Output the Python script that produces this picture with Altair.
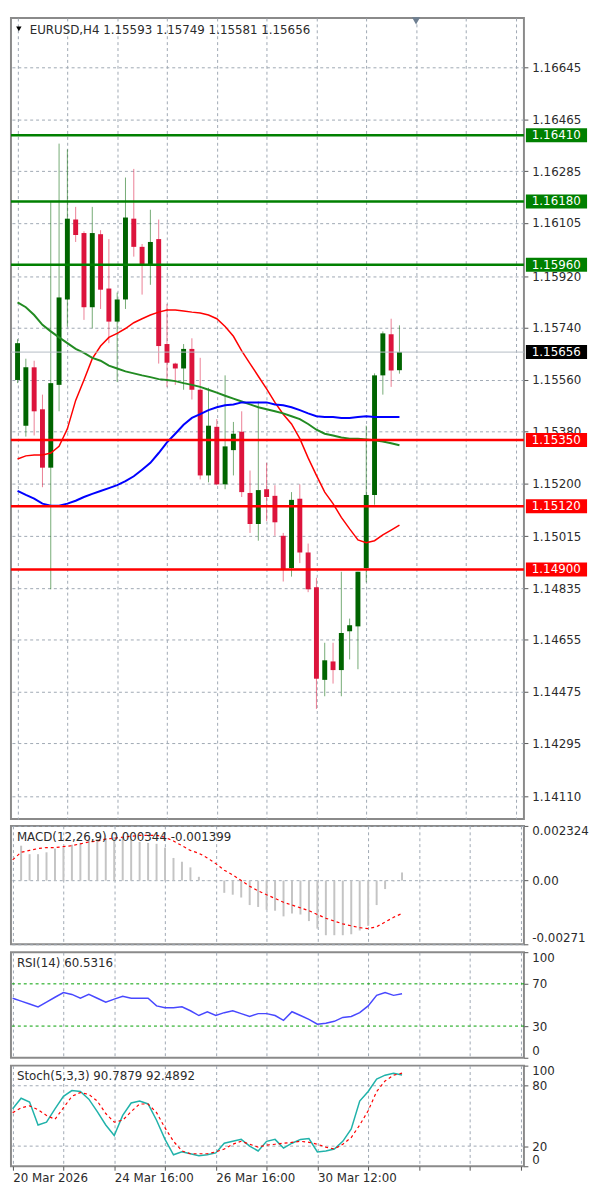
import altair as alt
import pandas as pd

# ---------------- data ----------------
bar_index = list(range(47))
opens = [1.15559, 1.15400, 1.15603, 1.15457, 1.15254, 1.15542, 1.15839, 1.16117, 1.16070, 1.15812,
         1.16066, 1.15877, 1.15762, 1.15839, 1.16120, 1.16022, 1.15958, 1.16049, 1.15684, 1.15616,
         1.15599, 1.15667, 1.15525, 1.15227, 1.15396, 1.15196, 1.15315, 1.15379, 1.15166, 1.15058,
         1.15179, 1.15156, 1.15017, 1.14905, 1.15146, 1.14959, 1.14838, 1.14516, 1.14580, 1.14550,
         1.14685, 1.14702, 1.14905, 1.15159, 1.15575, 1.15718, 1.15593]
highs = [1.15701, 1.15633, 1.15626, 1.15508, 1.16178, 1.16381, 1.16361, 1.16161, 1.16076, 1.16161,
         1.16080, 1.16049, 1.15863, 1.16263, 1.16293, 1.16032, 1.16151, 1.16117, 1.15823, 1.15619,
         1.15684, 1.15704, 1.15636, 1.15532, 1.15423, 1.15575, 1.15413, 1.15450, 1.15244, 1.15484,
         1.15271, 1.15193, 1.15027, 1.15169, 1.15196, 1.14990, 1.14871, 1.14645, 1.14645, 1.14892,
         1.14729, 1.14892, 1.15400, 1.15582, 1.15728, 1.15772, 1.15749]
lows = [1.15548, 1.15362, 1.15366, 1.15186, 1.14831, 1.15450, 1.15745, 1.16039, 1.15768, 1.15738,
        1.15806, 1.15687, 1.15552, 1.15806, 1.15988, 1.15856, 1.15890, 1.15616, 1.15535, 1.15542,
        1.15525, 1.15491, 1.15213, 1.15203, 1.15193, 1.15179, 1.15227, 1.15152, 1.15027, 1.15000,
        1.15068, 1.15017, 1.14858, 1.14875, 1.14922, 1.14821, 1.14415, 1.14459, 1.14503, 1.14459,
        1.14587, 1.14553, 1.14855, 1.15125, 1.15508, 1.15535, 1.15581]
closes = [1.15687, 1.15603, 1.15450, 1.15254, 1.15548, 1.15846, 1.16120, 1.16063, 1.15812, 1.16070,
          1.15873, 1.15762, 1.15839, 1.16124, 1.16022, 1.15958, 1.16039, 1.15677, 1.15619, 1.15599,
          1.15667, 1.15525, 1.15227, 1.15400, 1.15196, 1.15328, 1.15372, 1.15169, 1.15058, 1.15176,
          1.15152, 1.15064, 1.14899, 1.15142, 1.14959, 1.14831, 1.14520, 1.14584, 1.14550, 1.14679,
          1.14706, 1.14892, 1.15159, 1.15575, 1.15721, 1.15592, 1.15656]

ma_red = [1.15284, 1.15295, 1.15298, 1.15298, 1.15305, 1.15328, 1.15389, 1.15488, 1.15559, 1.15633,
          1.15677, 1.15707, 1.15721, 1.15738, 1.15758, 1.15772, 1.15785, 1.15795, 1.15802, 1.15802,
          1.15799, 1.15795, 1.15792, 1.15785, 1.15772, 1.15745, 1.15711, 1.15660, 1.15616, 1.15572,
          1.15528, 1.15481, 1.15440, 1.15406, 1.15355, 1.15288, 1.15227, 1.15169, 1.15129, 1.15081,
          1.15041, 1.15003, 1.14993, 1.15000, 1.15020, 1.15037, 1.15054]
ma_green = [1.15829, 1.15812, 1.15785, 1.15751, 1.15728, 1.15707, 1.15687, 1.15667, 1.15653, 1.15636,
            1.15626, 1.15609, 1.15599, 1.15589, 1.15582, 1.15575, 1.15569, 1.15562, 1.15559, 1.15555,
            1.15548, 1.15542, 1.15535, 1.15525, 1.15515, 1.15504, 1.15494, 1.15484, 1.15474, 1.15464,
            1.15457, 1.15450, 1.15443, 1.15433, 1.15423, 1.15406, 1.15386, 1.15372, 1.15366, 1.15359,
            1.15355, 1.15355, 1.15352, 1.15349, 1.15345, 1.15339, 1.15332]
ma_blue = [1.15173, 1.15159, 1.15146, 1.15129, 1.15122, 1.15122, 1.15129, 1.15139, 1.15152, 1.15163,
           1.15173, 1.15183, 1.15193, 1.15207, 1.15224, 1.15247, 1.15271, 1.15305, 1.15342, 1.15372,
           1.15403, 1.15427, 1.15440, 1.15454, 1.15464, 1.15471, 1.15474, 1.15481, 1.15481, 1.15481,
           1.15481, 1.15474, 1.15471, 1.15464, 1.15454, 1.15443, 1.15433, 1.15430, 1.15430, 1.15427,
           1.15427, 1.15430, 1.15433, 1.15430, 1.15430, 1.15430, 1.15430]

macd_hist = [None, 0.001483, 0.001122, 0.001122, 0.001202, 0.001362, 0.001402, 0.001523, 0.001603, 0.001723,
             0.001763, 0.001803, 0.001843, 0.001843, 0.001763, 0.001643, 0.001603, 0.001563, 0.001402, 0.000962,
             0.000801, 0.000561, 0.000160, -0.000020, -0.000040, -0.000521, -0.000601, -0.000721, -0.001042, -0.001122,
             -0.001242, -0.001282, -0.001523, -0.001402, -0.001443, -0.001723, -0.002044, -0.002324, -0.002324, -0.002324,
             -0.002284, -0.002124, -0.001923, -0.001042, -0.000361, -0.000040, 0.000344]
macd_signal = [0.000882, 0.001202, 0.001282, 0.001362, 0.001402, 0.001402, 0.001443, 0.001483, 0.001563, 0.001643,
               0.001683, 0.001763, 0.001803, 0.001843, 0.001883, 0.001923, 0.001923, 0.001923, 0.001843, 0.001683,
               0.001483, 0.001282, 0.001162, 0.000962, 0.000721, 0.000441, 0.000240, 0.0, -0.000240, -0.000441,
               -0.000601, -0.000761, -0.000922, -0.001042, -0.001162, -0.001282, -0.001443, -0.001603, -0.001723, -0.001843,
               -0.001923, -0.002004, -0.002044, -0.001963, -0.001763, -0.001563, -0.001399]
rsi_values = [56.4, 53.6, 50.9, 48.2, 52.7, 57.3, 61.8, 60.0, 56.4, 60.0,
              56.4, 52.7, 55.5, 58.2, 56.4, 56.4, 56.4, 49.1, 47.3, 47.3,
              48.2, 44.5, 40.0, 43.6, 40.0, 42.7, 44.5, 41.8, 39.1, 41.8,
              41.8, 40.0, 35.5, 43.6, 40.0, 36.4, 31.8, 32.7, 34.5, 38.2,
              39.1, 42.7, 49.1, 59.1, 61.8, 59.1, 60.5316]
stoch_k = [57.1, 67.6, 63.8, 41.0, 43.8, 57.1, 69.5, 75.2, 74.3, 66.7,
           54.3, 41.0, 30.5, 50.5, 62.9, 64.8, 61.9, 45.7, 26.7, 11.4,
           14.3, 12.4, 10.5, 11.4, 13.3, 22.9, 24.8, 26.7, 20.0, 15.2,
           24.8, 26.7, 18.1, 22.9, 26.7, 27.6, 14.3, 15.2, 17.1, 24.8,
           37.1, 64.8, 74.3, 86.7, 90.5, 92.4, 90.7879]
stoch_d = [53.3, 58.1, 60.0, 56.2, 50.5, 46.7, 58.1, 69.5, 73.3, 71.4,
           64.8, 52.4, 43.8, 45.7, 54.3, 61.9, 61.9, 53.3, 38.1, 24.8,
           15.2, 12.4, 12.4, 12.4, 14.3, 17.1, 21.9, 24.8, 21.9, 19.0,
           21.0, 21.9, 22.9, 23.8, 24.8, 23.8, 21.9, 19.0, 17.1, 21.9,
           28.6, 41.0, 55.2, 74.3, 84.8, 90.5, 92.4892]

green_levels = [1.16410, 1.16180, 1.15960]
red_levels = [1.15350, 1.15120, 1.14900]
last_price = [1.15656]
price_ticks = [1.16645, 1.16465, 1.16285, 1.16105, 1.15920, 1.15740, 1.15560, 1.15380,
               1.15200, 1.15015, 1.14835, 1.14655, 1.14475, 1.14295, 1.14110]
price_domain = [1.14032, 1.16818]
macd_ticks = [-0.00271, 0.0, 0.002324]
macd_tick_labels = ["-0.00271", "0.00", "0.002324"]
rsi_ticks = [0, 30, 70, 100]
rsi_levels = [30, 70]
stoch_ticks = [0, 20, 80, 100]
stoch_levels = [20, 80]
date_pos = [0, 12, 24, 36]
date_labels = ["20 Mar 2026", "24 Mar 16:00", "26 Mar 16:00", "30 Mar 12:00"]
grid_pos = list(range(0, 61, 6))
x_domain = [-0.2, 60.4]
shift_marker = [48]

# ---------------- styling ----------------
W = 520
FONT = "DejaVu Sans"
TXT = "#2b2b2b"
GRID = "#9ea8b3"
UP = "#006400"
DOWN = "#dc143c"
BOX = "M-1,-0.23L1,-0.23L1,0.23L-1,0.23Z"

df = pd.DataFrame({
    "i": bar_index, "open": opens, "high": highs, "low": lows, "close": closes,
    "ma_red": ma_red, "ma_green": ma_green, "ma_blue": ma_blue,
    "hist": macd_hist, "signal": macd_signal, "rsi": rsi_values, "k": stoch_k, "d": stoch_d,
})
df["dir"] = ["up" if c >= o else "down" for o, c in zip(opens, closes)]
base = alt.Chart(df)

xscale = alt.Scale(domain=x_domain, nice=False, zero=False)
date_expr = " : ".join(f"datum.value == {p} ? '{t}'" for p, t in zip(date_pos, date_labels)) + " : ''"

XAX_PLAIN = alt.Axis(values=grid_pos, grid=True, gridDash=[3, 3], gridColor=GRID, domain=False,
                     labels=False, ticks=False, title=None)
XAX_DATES = alt.Axis(values=grid_pos, grid=True, gridDash=[3, 3], gridColor=GRID, domain=False,
                     labels=True, labelExpr=date_expr, labelAlign="left", labelOverlap=False,
                     labelPadding=2, ticks=True, tickSize=4, tickColor="#555555", title=None)


def yaxis(values, **kw):
    opts = dict(orient="right", values=values, domain=False, ticks=True, tickSize=4,
                tickColor="#555555", labelPadding=4, labelOverlap=False, title=None)
    opts.update(kw)
    return alt.Axis(**opts)


def title_text(txt):
    return alt.Chart(pd.DataFrame({"t": [txt]})).mark_text(
        align="left", baseline="middle", font=FONT, fontSize=12, color=TXT
    ).encode(text="t:N", x=alt.value(6), y=alt.value(11))


# ---------------- price panel ----------------
pscale = alt.Scale(domain=price_domain, nice=False, zero=False)
PAX = yaxis(price_ticks, format=".5f", grid=True, gridDash=[3, 3], gridColor=GRID)
cscale = alt.Scale(domain=["up", "down"], range=[UP, DOWN])


def PX():
    return alt.X("i:Q", scale=xscale, axis=XAX_PLAIN)


def PY(field):
    return alt.Y(field, scale=pscale, axis=PAX)


wicks = base.mark_rule(strokeWidth=1, opacity=0.55).encode(
    x=PX(), y=PY("low:Q"), y2="high:Q",
    color=alt.Color("dir:N", scale=cscale, legend=None),
)
bodies = base.mark_bar(width=5).encode(
    x=PX(), y=PY("open:Q"), y2="close:Q",
    color=alt.Color("dir:N", scale=cscale, legend=None),
)
ma_r = base.mark_line(color="#ff0000", strokeWidth=1.5).encode(x=PX(), y=PY("ma_red:Q"))
ma_g = base.mark_line(color="#228b22", strokeWidth=2).encode(x=PX(), y=PY("ma_green:Q"))
ma_b = base.mark_line(color="#0000ff", strokeWidth=2).encode(x=PX(), y=PY("ma_blue:Q"))


def hline(values, color, width):
    return alt.Chart(pd.DataFrame({"v": values})).mark_rule(color=color, strokeWidth=width).encode(
        y=PY("v:Q"))


def tag(values, fill):
    d = pd.DataFrame({"v": values})
    box = alt.Chart(d).mark_point(shape=BOX, filled=True, size=3844, color=fill, opacity=1, strokeWidth=0).encode(
        x=alt.value(W + 33), y=PY("v:Q"))
    txt = alt.Chart(d).mark_text(align="left", baseline="middle", color="white", font=FONT, fontSize=12).encode(
        x=alt.value(W + 8), y=PY("v:Q"), text=alt.Text("v:Q", format=".5f"))
    return [box, txt]


header = f"EURUSD,H4  {opens[-1]:.5f} {highs[-1]:.5f} {lows[-1]:.5f} {closes[-1]:.5f}"
header_txt = alt.Chart(pd.DataFrame({"t": [header]})).mark_text(
    align="left", baseline="middle", font=FONT, fontSize=12, color=TXT
).encode(text="t:N", x=alt.value(19), y=alt.value(12))
header_tri = alt.Chart(pd.DataFrame({"t": [0]})).mark_point(
    shape="triangle-down", filled=True, color="#000000", opacity=1, size=30
).encode(x=alt.value(8), y=alt.value(11))
shift_tri = alt.Chart(pd.DataFrame({"i": shift_marker})).mark_point(
    shape="triangle-down", filled=True, color="#6e7f91", opacity=1, size=70
).encode(x=PX(), y=alt.value(3))

price = alt.layer(
    wicks, bodies, ma_r, ma_g, ma_b,
    hline(last_price, "#b4bcc4", 1),
    hline(green_levels, "#008000", 2.5),
    hline(red_levels, "#ff0000", 2.5),
    *tag(green_levels, "#008000"), *tag(red_levels, "#ff0000"), *tag(last_price, "#000000"),
    header_tri, header_txt, shift_tri,
).properties(width=W, height=812)

# ---------------- MACD panel ----------------
mscale = alt.Scale(domain=[macd_ticks[0], macd_ticks[-1]], nice=False, zero=False)
macd_expr = " : ".join(f"datum.value == {v} ? '{t}'" for v, t in zip(macd_ticks, macd_tick_labels)) + " : ''"
MAX = yaxis(macd_ticks, labelExpr=macd_expr, labelFlush=True, grid=True, gridDash=[3, 3], gridColor=GRID)
MX = alt.X("i:Q", scale=xscale, axis=XAX_PLAIN)
hist = base.mark_rule(strokeWidth=2, color="#c4c4c4").encode(
    x=MX, y=alt.Y("hist:Q", scale=mscale, axis=MAX), y2=alt.datum(0))
sig = base.mark_line(color="#ff0000", strokeDash=[3, 3], strokeWidth=1.2).encode(
    x=MX, y=alt.Y("signal:Q", scale=mscale, axis=MAX))
macd = alt.layer(
    hist, sig, title_text(f"MACD(12,26,9) {macd_hist[-1]:.6f} {macd_signal[-1]:.6f}")
).properties(width=W, height=120)

# ---------------- RSI panel ----------------
rscale = alt.Scale(domain=[0, 100], nice=False, zero=False)
RAX = yaxis(rsi_ticks, labelFlush=True, grid=False)
RX = alt.X("i:Q", scale=xscale, axis=XAX_PLAIN)
rsi_lvl = alt.Chart(pd.DataFrame({"v": rsi_levels})).mark_rule(
    color="#00a000", strokeDash=[3, 3], strokeWidth=1).encode(
    y=alt.Y("v:Q", scale=rscale, axis=RAX))
rsi_line = base.mark_line(color="#4848ff", strokeWidth=1.5).encode(
    x=RX, y=alt.Y("rsi:Q", scale=rscale, axis=RAX))
rsi = alt.layer(
    rsi_lvl, rsi_line, title_text(f"RSI(14) {rsi_values[-1]:.4f}")
).properties(width=W, height=107)

# ---------------- Stochastic panel ----------------
sscale = alt.Scale(domain=[0, 100], nice=False, zero=False)
SAX = yaxis(stoch_ticks, labelFlush=True, grid=False)
SX = alt.X("i:Q", scale=xscale, axis=XAX_DATES)
st_lvl = alt.Chart(pd.DataFrame({"v": stoch_levels})).mark_rule(
    color=GRID, strokeDash=[3, 3], strokeWidth=1).encode(
    y=alt.Y("v:Q", scale=sscale, axis=SAX))
k_line = base.mark_line(color="#20b2aa", strokeWidth=1.5).encode(
    x=SX, y=alt.Y("k:Q", scale=sscale, axis=SAX))
d_line = base.mark_line(color="#ff0000", strokeDash=[3, 3], strokeWidth=1.2).encode(
    x=SX, y=alt.Y("d:Q", scale=sscale, axis=SAX))
stoch = alt.layer(
    st_lvl, k_line, d_line, title_text(f"Stoch(5,3,3) {stoch_k[-1]:.4f} {stoch_d[-1]:.4f}")
).properties(width=W, height=102)

chart = alt.vconcat(price, macd, rsi, stoch, spacing=4).properties(
    padding={"left": 0, "top": 0, "right": 2, "bottom": 2}, background="white"
).configure_view(
    stroke="#8a8a8a", strokeWidth=2
).configure_axis(
    labelFont=FONT, labelFontSize=12, labelColor=TXT
)

chart.save("out.html", embed_options={"renderer": "svg", "actions": False})
